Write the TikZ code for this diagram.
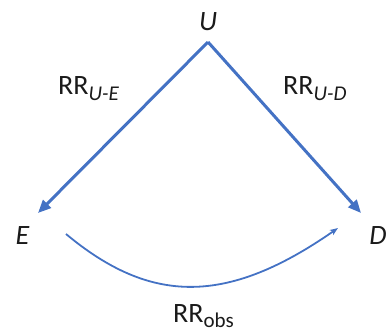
\documentclass[tikz,border=0pt]{standalone}
\usepackage{fontspec}
\setmainfont{Carlito}
\usetikzlibrary{arrows.meta}
\definecolor{arrowblue}{HTML}{4472C4}
\definecolor{txt}{HTML}{1A1A1A}
\newcommand{\subtxt}[2][6pt]{\raisebox{-#1}{\fontsize{21}{21}\selectfont #2}}
\begin{document}
\begin{tikzpicture}[x=1pt,y=1pt,
  lbl/.style={inner sep=0pt, text=txt, font=\fontsize{28}{30}\selectfont},
  mainarrow/.style={draw=arrowblue, line width=3pt, -{Triangle[length=13pt,width=11pt]}},
  curvearrow/.style={draw=arrowblue, line width=1.8pt, -{Stealth[length=8pt,width=6pt,inset=2pt]}}]
\useasboundingbox (0,0) rectangle (388,-335);
\node[lbl] (U) at (208,-22) {\itshape U};
\node[lbl] (E) at (22.5,-236) {\itshape E};
\node[lbl] (D) at (378,-236) {\itshape D};
\node[lbl, anchor=base west] (rue) at (58,-94) {RR\subtxt{\itshape U-E}};
\node[lbl, anchor=base west] (rud) at (283,-94) {RR\subtxt{\itshape U-D}};
\node[lbl, anchor=base west] (robs) at (173,-322) {RR\subtxt[5pt]{obs}};
\coordinate (apex) at (208,-42);
\coordinate (ein) at (38,-213);
\coordinate (din) at (361,-213);
\coordinate (eout) at (66,-234);
\coordinate (dcurve) at (338,-228);
\draw[mainarrow] (apex) -- (ein);
\draw[mainarrow] (apex) -- (din);
\draw[curvearrow] (eout) .. controls (150,-304) and (226,-306) .. (dcurve);
\end{tikzpicture}
\end{document}
